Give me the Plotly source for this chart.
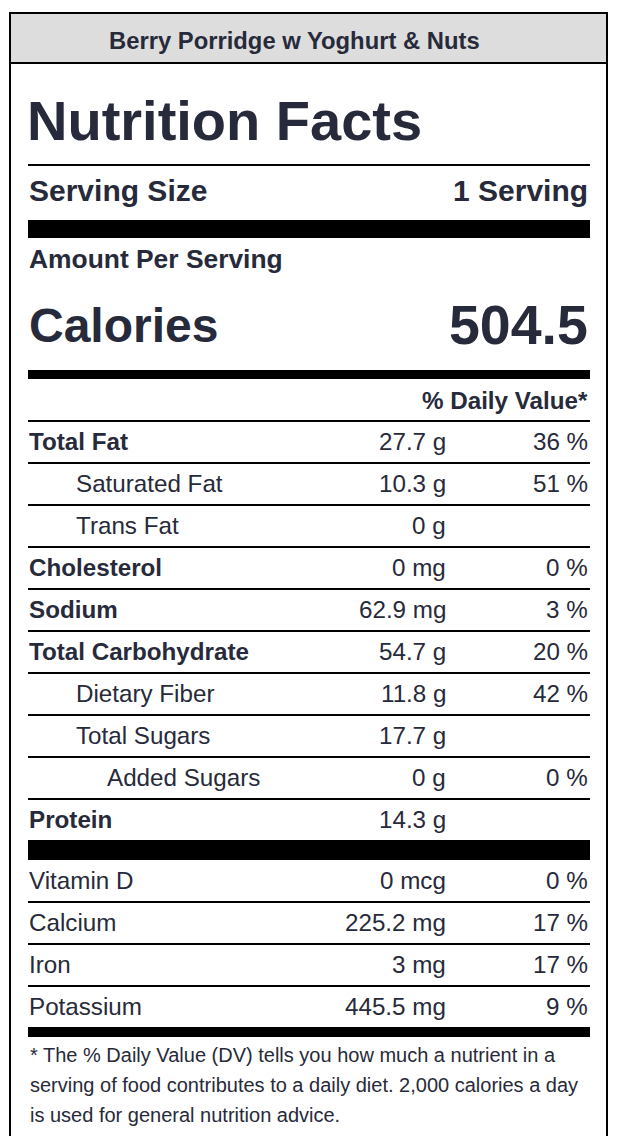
'''Nutrition facts label drawn with plotly shapes and annotations'''
import plotly.graph_objects as go

# Label content
recipe_name = "Berry Porridge w Yoghurt & Nuts"
serving_size = "1 Serving"
calories = "504.5"

nutrients = ["Total Fat", "Saturated Fat", "Trans Fat", "Cholesterol", "Sodium",
             "Total Carbohydrate", "Dietary Fiber", "Total Sugars", "Added Sugars",
             "Protein"]
amounts = ["27.7 g", "10.3 g", "0 g", "0 mg", "62.9 mg", "54.7 g", "11.8 g",
           "17.7 g", "0 g", "14.3 g"]
daily_values = ["36 %", "51 %", "", "0 %", "3 %", "20 %", "42 %", "", "0 %", ""]
indent_level = [0, 1, 1, 0, 0, 0, 1, 1, 2, 0]

vitamins = ["Vitamin D", "Calcium", "Iron", "Potassium"]
vitamin_amounts = ["0 mcg", "225.2 mg", "3 mg", "445.5 mg"]
vitamin_dv = ["0 %", "17 %", "17 %", "9 %"]

footnote = [
    "* The % Daily Value (DV) tells you how much a nutrient in a",
    "serving of food contributes to a daily diet. 2,000 calories a day",
    "is used for general nutrition advice.",
]

W, H = 618, 1136
TEXT = "#272a3a"
FONT = "Liberation Sans, Arial, Helvetica, sans-serif"
LEFT, RIGHT = 28, 590
AMOUNT_X = 448
ROW_H = 42
BODY = 24.2


def main():
    fig = go.Figure()
    shapes = []
    notes = []

    def bar(y0, y1, x0=LEFT, x1=RIGHT, color="black"):
        shapes.append(dict(type="rect", x0=x0, x1=x1, y0=y0, y1=y1,
                           fillcolor=color, line_width=0, layer="above"))

    def text(x, y, s, size, anchor="left", bold=False):
        notes.append(dict(x=x, y=y, text=f"<b>{s}</b>" if bold else s,
                          xanchor=anchor, yanchor="middle", showarrow=False,
                          font=dict(family=FONT, size=size, color=TEXT)))

    # header band and outer frame
    bar(13, 63, 10, 607, "#dddddd")
    bar(12, 14, 9, 608)
    bar(62, 64, 9, 608)
    bar(12, H, 9, 11)
    bar(12, H, 606, 608)
    text(294, 40, recipe_name, 23.8, "center", True)

    text(LEFT - 3, 120, "Nutrition Facts", 56, bold=True)
    bar(164, 166)
    text(LEFT - 1, 190, "Serving Size", 30, bold=True)
    text(RIGHT, 190, serving_size, 30, "right", True)
    bar(220, 238)
    text(LEFT - 1, 259, "Amount Per Serving", 26.4, bold=True)
    text(LEFT - 1, 325, "Calories", 48, bold=True)
    text(RIGHT, 325, calories, 55.5, "right", True)
    bar(370, 379)
    text(RIGHT, 400, "% Daily Value*", BODY, "right", True)

    # main nutrient rows
    top = 421
    for i, name in enumerate(nutrients):
        bar(top - 1, top + 1)
        yc = top + ROW_H / 2 - 1
        x = LEFT - 1 + [0, 47, 78][indent_level[i]]
        text(x, yc, name, BODY, bold=indent_level[i] == 0)
        text(AMOUNT_X, yc, amounts[i], BODY, "right")
        if daily_values[i]:
            text(RIGHT, yc, daily_values[i], BODY, "right")
        top += ROW_H
    bar(840, 860)

    # vitamins and minerals
    top = 860
    for i, name in enumerate(vitamins):
        if i:
            bar(top - 1, top + 1)
        yc = top + ROW_H / 2 - 1
        text(LEFT - 1, yc, name, BODY)
        text(AMOUNT_X, yc, vitamin_amounts[i], BODY, "right")
        text(RIGHT, yc, vitamin_dv[i], BODY, "right")
        top += ROW_H
    bar(1027, 1037)

    for i, line in enumerate(footnote):
        text(LEFT, 1055 + 30 * i, line, 20)

    fig.update_layout(
        width=W, height=H,
        margin=dict(l=0, r=0, t=0, b=0),
        paper_bgcolor="white", plot_bgcolor="white",
        shapes=shapes, annotations=notes,
        showlegend=False,
    )
    fig.update_xaxes(range=[0, W], visible=False, fixedrange=True)
    fig.update_yaxes(range=[H, 0], visible=False, fixedrange=True)

    fig.write_html("out.html", config={"displayModeBar": False},
                   post_script="document.body.style.margin='0';"
                               "document.body.style.overflow='hidden';")


if __name__ == "__main__":
    main()
